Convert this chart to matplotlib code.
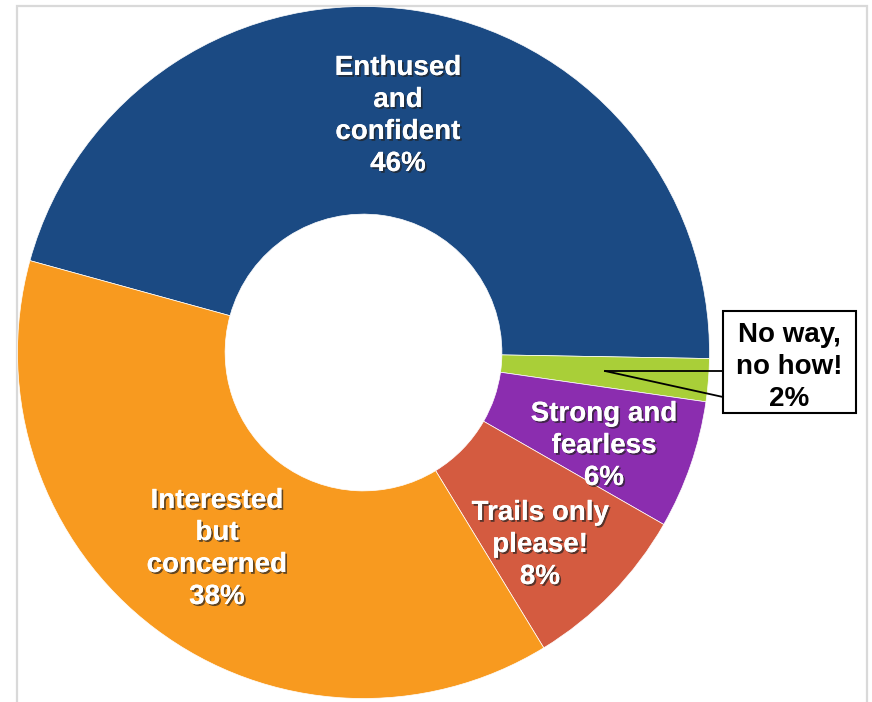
import matplotlib
matplotlib.use("Agg")
import matplotlib.pyplot as plt
import matplotlib.patheffects as pe
from matplotlib.patches import Rectangle

plt.rcParams['font.family'] = ['Liberation Sans', 'DejaVu Sans']

categories = ["Enthused\nand\nconfident", "No way,\nno how!", "Strong and\nfearless",
              "Trails only\nplease!", "Interested\nbut\nconcerned"]
values = [46, 2, 6, 8, 38]
colors = ["#1B4A83", "#A9CF38", "#8B2DAF", "#D45B40", "#F89A1F"]

W, H = 872, 702
fig = plt.figure(figsize=(W / 100, H / 100), dpi=100)
ax = fig.add_axes([0, 0, 1, 1])

cx, cy, R = 363.5, H - 352.5, 346
ax.pie(values, colors=colors, startangle=164.6, counterclock=False,
       center=(cx, cy), radius=R,
       wedgeprops=dict(width=R * 0.6, linewidth=0.5, edgecolor="white"))
ax.set_xlim(0, W)
ax.set_ylim(0, H)
ax.set_aspect("equal")
ax.axis("off")

# outer frame
ax.add_patch(Rectangle((17, -10), 850, H - 6 + 10, fill=False,
                       edgecolor="#D9D9D9", linewidth=1.6, zorder=0))

shadow = [pe.withSimplePatchShadow(offset=(1.3, -1.3), shadow_rgbFace="#222222", alpha=0.7),
          pe.Normal()]

FS = 20
LS = 1.3

def lab(x, y, txt):
    ax.text(x, H - y, txt, ha="center", va="center", color="white", fontsize=FS,
            fontweight="bold", linespacing=LS, path_effects=shadow, zorder=5)

lab(398, 116, categories[0] + "\n" + f"{values[0]}%")
lab(217, 549, categories[4] + "\n" + f"{values[4]}%")
lab(540, 545, categories[3] + "\n" + f"{values[3]}%")
lab(604, 446, categories[2] + "\n" + f"{values[2]}%")

# callout for smallest slice
ax.add_patch(Rectangle((723, H - 413), 133, 102, facecolor="white",
                       edgecolor="black", linewidth=1.5, zorder=6))
ax.plot([605, 723], [H - 371, H - 371], color="black", linewidth=1.3, zorder=6)
ax.plot([605, 723], [H - 371, H - 397], color="black", linewidth=1.3, zorder=6)
ax.text(789.5, H - 367, categories[1] + "\n" + f"{values[1]}%", ha="center", va="center",
        color="black", fontsize=FS, fontweight="bold", linespacing=LS, zorder=7)

fig.savefig("out.png", dpi=100)
